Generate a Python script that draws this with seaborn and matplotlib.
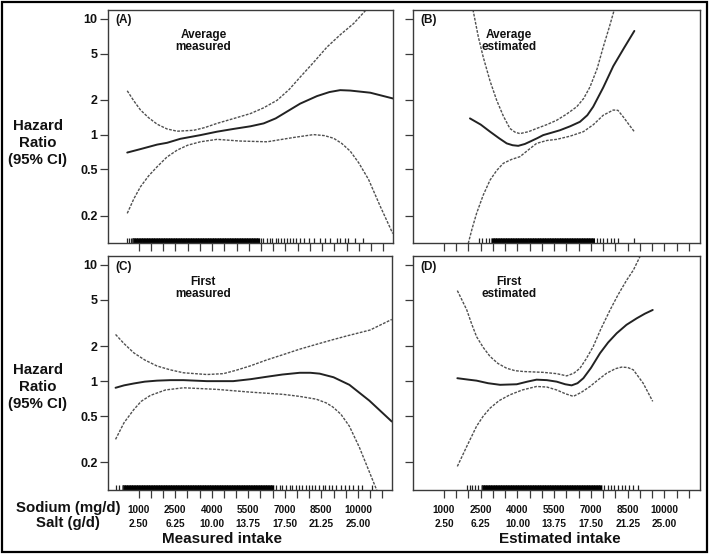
import matplotlib
matplotlib.use("Agg")
import matplotlib.pyplot as plt
import seaborn as sns
from matplotlib.patches import Rectangle

sns.set_theme(style="white")
plt.rcParams['font.family'] = ['Liberation Sans', 'DejaVu Sans']

# ---------------- data ----------------
sodium_ticks = [1000, 2500, 4000, 5500, 7000, 8500, 10000]
salt_labels = ["2.50", "6.25", "10.00", "13.75", "17.50", "21.25", "25.00"]
minor_ticks = [1500, 2000, 3000, 3500, 4500, 5000, 6000, 6500, 7500, 8000,
               9000, 9500, 10500, 11000]
y_ticks = [0.2, 0.5, 1, 2, 5, 10]
y_labels = ["0.2", "0.5", "1", "2", "5", "10"]

# Panel A: average measured
a_x = [527, 1070, 1750, 2160, 2700, 3520, 4200, 4880, 5570, 6110, 6600, 6930, 7600, 8290,
       8800, 9240, 9650, 10470, 11400]
a_hr = [0.70, 0.75, 0.82, 0.85, 0.92, 0.99, 1.06, 1.12, 1.18, 1.25, 1.38, 1.52, 1.85, 2.15,
        2.33, 2.42, 2.40, 2.30, 2.05]
a_up_x = [527, 800, 1070, 1400, 1750, 2150, 2570, 3250, 3700, 4200, 4900, 5570, 6100, 6660,
          7150, 7610, 8150, 8700, 9250, 9790, 10600]
a_up = [2.39, 1.95, 1.63, 1.40, 1.23, 1.12, 1.07, 1.09, 1.15, 1.25, 1.38, 1.52, 1.70, 1.98,
        2.45, 3.15, 4.2, 5.7, 7.3, 9.1, 14.0]
a_lo_x = [527, 800, 1070, 1400, 1750, 2150, 2570, 3000, 3520, 4200, 5150, 6250, 7340, 8150,
          8600, 8970, 9300, 9650, 10000, 10400, 10880, 11390]
a_lo = [0.209, 0.28, 0.355, 0.44, 0.528, 0.64, 0.735, 0.81, 0.867, 0.91, 0.88, 0.867, 0.945,
        1.0, 0.98, 0.93, 0.84, 0.72, 0.57, 0.41, 0.24, 0.14]

# Panel B: average estimated
b_x = [2060, 2500, 2880, 3250, 3560, 3800, 4030, 4300, 4510, 4800, 5050, 5400, 5730, 6150,
       6550, 6850, 7090, 7500, 7910, 8350, 8770]
b_hr = [1.38, 1.22, 1.06, 0.93, 0.84, 0.81, 0.80, 0.83, 0.87, 0.93, 0.99, 1.04, 1.09, 1.18,
        1.29, 1.47, 1.74, 2.55, 3.9, 5.6, 7.85]
b_up_x = [2150, 2400, 2600, 2880, 3150, 3420, 3690, 3900, 4100, 4450, 4780, 5200, 5600, 6000,
          6420, 6700, 6960, 7250, 7500, 7750, 8000]
b_up = [13.0, 7.0, 4.68, 2.9, 1.98, 1.45, 1.13, 1.05, 1.02, 1.06, 1.13, 1.22, 1.33, 1.50,
        1.74, 2.05, 2.58, 3.7, 5.7, 8.5, 13.0]
b_lo_x = [1990, 2150, 2330, 2600, 2880, 3150, 3420, 3750, 4100, 4450, 4780, 5200, 5600, 6150,
          6690, 7100, 7500, 7910, 8100, 8320, 8550, 8770]
b_lo = [0.115, 0.155, 0.209, 0.30, 0.405, 0.49, 0.565, 0.61, 0.645, 0.74, 0.84, 0.89, 0.91,
        0.97, 1.06, 1.22, 1.47, 1.63, 1.62, 1.42, 1.22, 1.06]

# Panel C: first measured
c_x = [50, 400, 800, 1250, 1750, 2300, 2840, 3800, 4880, 5600, 6250, 6900, 7610, 8050, 8430,
       9000, 9650, 10470, 11390]
c_hr = [0.877, 0.92, 0.955, 0.99, 1.01, 1.02, 1.02, 1.0, 1.0, 1.04, 1.09, 1.14, 1.18, 1.18,
        1.16, 1.08, 0.93, 0.68, 0.45]
c_up_x = [50, 400, 800, 1250, 1750, 2300, 2840, 3800, 4480, 5000, 5570, 6250, 6930, 7600,
          8290, 8900, 9520, 10500, 11390]
c_up = [2.52, 2.1, 1.75, 1.52, 1.35, 1.25, 1.18, 1.14, 1.16, 1.24, 1.35, 1.52, 1.69, 1.88,
        2.07, 2.25, 2.44, 2.75, 3.39]
c_lo_x = [50, 400, 800, 1100, 1480, 2100, 2840, 4200, 5570, 6930, 7600, 8290, 8700, 8970,
          9300, 9650, 10060, 10450, 10800]
c_lo = [0.316, 0.44, 0.57, 0.67, 0.754, 0.84, 0.877, 0.85, 0.805, 0.77, 0.74, 0.70, 0.65,
        0.60, 0.52, 0.41, 0.27, 0.17, 0.112]

# Panel D: first estimated
d_x = [1545, 2000, 2330, 2800, 3290, 3970, 4400, 4780, 5200, 5600, 5950, 6210, 6450, 6690,
       7000, 7370, 7700, 8050, 8450, 8870, 9200, 9520]
d_hr = [1.06, 1.03, 1.01, 0.96, 0.93, 0.94, 0.99, 1.03, 1.02, 0.99, 0.94, 0.92, 0.96, 1.06,
        1.30, 1.74, 2.15, 2.58, 3.05, 3.47, 3.8, 4.09]
d_up_x = [1545, 1750, 1930, 2130, 2330, 2600, 2880, 3200, 3560, 3900, 4240, 5050, 5600, 6010,
          6300, 6550, 6800, 7090, 7400, 7780, 8100, 8460, 8730, 9100]
d_up = [6.0, 4.9, 4.09, 3.1, 2.41, 1.95, 1.63, 1.42, 1.29, 1.23, 1.21, 1.19, 1.16, 1.11,
        1.17, 1.29, 1.55, 1.98, 2.8, 4.09, 5.5, 7.4, 9.0, 13.0]
d_lo_x = [1545, 1930, 2330, 2600, 2880, 3250, 3690, 4200, 4780, 5200, 5600, 5950, 6280, 6600,
          6960, 7300, 7640, 8000, 8250, 8500, 8730, 9130, 9520]
d_lo = [0.185, 0.275, 0.41, 0.50, 0.586, 0.68, 0.763, 0.84, 0.90, 0.89, 0.84, 0.78, 0.74,
        0.80, 0.90, 1.03, 1.17, 1.28, 1.32, 1.31, 1.25, 0.96, 0.67]

# Rug marks (observed intakes): dense block and scattered marks per panel
rug_a_dense = [800, 900, 1000, 1100, 1200, 1300, 1400, 1500, 1600, 1700, 1800, 1900, 2000,
               2100, 2200, 2300, 2400, 2500, 2600, 2700, 2800, 2900, 3000, 3100, 3200, 3300,
               3400, 3500, 3600, 3700, 3800, 3900, 4000, 4100, 4200, 4300, 4400, 4500, 4600,
               4700, 4800, 4900, 5000, 5100, 5200, 5300, 5400, 5500, 5600, 5700, 5800, 5900]
rug_a_sparse = [530, 600, 680, 760, 6000, 6100, 6250, 6350, 6450, 6600, 6700, 6800, 6950,
                7050, 7200, 7300, 7450, 7600, 7740, 7950, 8150, 8430, 8630, 8840, 9120, 9250,
                9450, 9570, 9860, 10180]
rug_b_dense = [3000, 3100, 3200, 3300, 3400, 3500, 3600, 3700, 3800, 3900, 4000, 4100, 4200,
               4300, 4400, 4500, 4600, 4700, 4800, 4900, 5000, 5100, 5200, 5300, 5400, 5500,
               5600, 5700, 5800, 5900, 6000, 6100, 6200, 6300, 6400, 6500, 6600, 6700, 6800,
               6900, 7000, 7100]
rug_b_sparse = [2430, 2550, 2700, 2850, 7240, 7350, 7500, 7650, 7800, 7950, 8100, 8760]
rug_c_dense = [400, 500, 600, 700, 800, 900, 1000, 1100, 1200, 1300, 1400, 1500, 1600, 1700,
               1800, 1900, 2000, 2100, 2200, 2300, 2400, 2500, 2600, 2700, 2800, 2900, 3000,
               3100, 3200, 3300, 3400, 3500, 3600, 3700, 3800, 3900, 4000, 4100, 4200, 4300,
               4400, 4500, 4600, 4700, 4800, 4900, 5000, 5100, 5200, 5300, 5400, 5500, 5600,
               5700, 5800, 5900, 6000, 6100, 6200, 6300, 6400, 6500]
rug_c_sparse = [50, 200, 350, 6650, 6800, 6900, 7050, 7200, 7300, 7450, 7600, 7700, 7850,
                8000, 8100, 8250, 8400, 8550, 8650, 8800, 8950, 9100, 9300, 9450, 9650, 9800,
                10000, 10180, 10590]
rug_d_dense = [2600, 2700, 2800, 2900, 3000, 3100, 3200, 3300, 3400, 3500, 3600, 3700, 3800,
               3900, 4000, 4100, 4200, 4300, 4400, 4500, 4600, 4700, 4800, 4900, 5000, 5100,
               5200, 5300, 5400, 5500, 5600, 5700, 5800, 5900, 6000, 6100, 6200, 6300, 6400,
               6500, 6600, 6700, 6800, 6900, 7000, 7100, 7200, 7300, 7400]
rug_d_sparse = [1940, 2050, 2150, 2250, 2400, 2550, 7550, 7700, 7800, 7950, 8100, 8250, 8400,
                8550, 8700, 8920]

# ---------------- figure ----------------
W, H = 709, 554
fig = plt.figure(figsize=(W / 100, H / 100), dpi=100)
fig.patch.set_facecolor("white")


def frac_rect(l, t, r, b):
    return [l / W, 1 - b / H, (r - l) / W, (b - t) / H]


panels = [
    dict(rect=frac_rect(108, 10, 393, 243), xlim=(-260, 11400), tag="(A)", title="Average\nmeasured",
         x=a_x, y=a_hr, ux=a_up_x, uy=a_up, lx=a_lo_x, ly=a_lo,
         rd=rug_a_dense, rs=rug_a_sparse, ylab=True, xlab=False),
    dict(rect=frac_rect(413, 10, 700, 243), xlim=(-265, 11450), tag="(B)", title="Average\nestimated",
         x=b_x, y=b_hr, ux=b_up_x, uy=b_up, lx=b_lo_x, ly=b_lo,
         rd=rug_b_dense, rs=rug_b_sparse, ylab=False, xlab=False),
    dict(rect=frac_rect(108, 256, 392, 490), xlim=(-260, 11400), tag="(C)", title="First\nmeasured",
         x=c_x, y=c_hr, ux=c_up_x, uy=c_up, lx=c_lo_x, ly=c_lo,
         rd=rug_c_dense, rs=rug_c_sparse, ylab=True, xlab=True),
    dict(rect=frac_rect(413, 256, 700, 490), xlim=(-265, 11450), tag="(D)", title="First\nestimated",
         x=d_x, y=d_hr, ux=d_up_x, uy=d_up, lx=d_lo_x, ly=d_lo,
         rd=rug_d_dense, rs=rug_d_sparse, ylab=False, xlab=True),
]

spine_col = "#3a3a3a"
narrow = ['Liberation Sans Narrow', 'Liberation Sans', 'DejaVu Sans']

for p in panels:
    ax = fig.add_axes(p["rect"])
    ax.set_facecolor("white")
    sns.lineplot(x=p["ux"], y=p["uy"], ax=ax, color="#505050", lw=1.0,
                 linestyle=(0, (2.0, 1.0)), sort=False, estimator=None)
    sns.lineplot(x=p["lx"], y=p["ly"], ax=ax, color="#505050", lw=1.0,
                 linestyle=(0, (2.0, 1.0)), sort=False, estimator=None)
    sns.lineplot(x=p["x"], y=p["y"], ax=ax, color="#222222", lw=1.4,
                 sort=False, estimator=None)
    sns.rugplot(x=p["rd"], ax=ax, height=0.02, color="black", linewidth=2.3,
                expand_margins=False, snap=False)
    sns.rugplot(x=p["rs"], ax=ax, height=0.02, color="#222222", linewidth=0.9,
                expand_margins=False)
    ax.set_yscale("log")
    ax.set_ylim(0.116, 11.9)
    ax.set_xlim(*p["xlim"])
    ax.set_yticks(y_ticks)
    ax.set_yticks([], minor=True)
    if p["ylab"]:
        ax.set_yticklabels(y_labels, fontsize=9, fontweight="bold", color="#111111")
    else:
        ax.set_yticklabels([])
    ax.set_xticks(sodium_ticks)
    ax.set_xticks(minor_ticks, minor=True)
    if p["xlab"]:
        labs = [f"{s}\n{t}" for s, t in zip(sodium_ticks, salt_labels)]
        ax.set_xticklabels(labs, fontsize=7.2, fontweight="bold", linespacing=1.6,
                           family=narrow, color="#111111")
    else:
        ax.set_xticklabels([])
    ax.tick_params(axis="both", which="both", direction="out", length=5.5, width=0.9,
                   color=spine_col, bottom=True, left=True, top=False, right=False)
    ax.tick_params(axis="y", pad=2)
    ax.tick_params(axis="x", pad=5)
    ax.set_xlabel("")
    ax.set_ylabel("")
    for s in ax.spines.values():
        s.set_visible(True)
        s.set_color(spine_col)
        s.set_linewidth(1.0)
    ax.grid(False)
    ax.text(0.025, 0.955, p["tag"], transform=ax.transAxes, fontsize=8.5, fontweight="bold",
            ha="left", va="center", color="#111111")
    ax.text(0.335, 0.865, p["title"], transform=ax.transAxes, fontsize=8.5, fontweight="bold",
            ha="center", va="center", color="#111111", linespacing=1.0)


def ftext(x, y, s, **kw):
    fig.text(x / W, 1 - y / H, s, ha="center", va="center", fontweight="bold",
             color="#111111", **kw)


ftext(38, 143, "Hazard\nRatio\n(95% CI)", fontsize=10.8, linespacing=1.25)
ftext(38, 387, "Hazard\nRatio\n(95% CI)", fontsize=10.8, linespacing=1.25)
ftext(68, 508, "Sodium (mg/d)", fontsize=10.8)
ftext(68, 523, "Salt (g/d)", fontsize=10.8)
ftext(222, 539, "Measured intake", fontsize=11)
ftext(560, 539, "Estimated intake", fontsize=11)

fig.patches.append(Rectangle((2 / W, 2 / H), 1 - 4 / W, 1 - 4 / H, transform=fig.transFigure,
                             fill=False, edgecolor="black", lw=1.6))

fig.savefig("out.png", dpi=100, facecolor="white")
